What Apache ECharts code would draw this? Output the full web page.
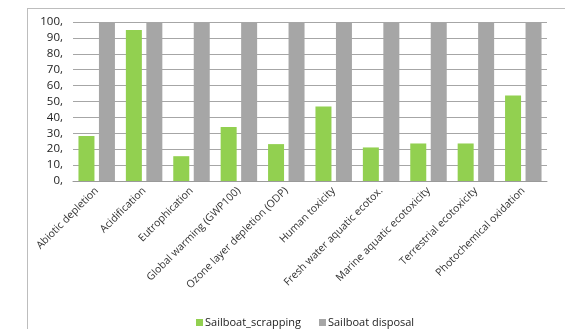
<!DOCTYPE html>
<html><head><meta charset="utf-8">
<script src="https://cdn.jsdelivr.net/npm/echarts@6/dist/echarts.min.js"></script>
<style>html,body{margin:0;padding:0;background:#fff}#c{width:565px;height:329px}
#frame{position:absolute;left:27px;top:8px;width:600px;height:330px;border-left:1px solid #bdbdbd;border-top:1px solid #bdbdbd;pointer-events:none}</style>
</head><body><div id="c"></div><div id="frame"></div>
<script>
const categories = ["Abiotic depletion","Acidification","Eutrophication","Global warming (GWP100)","Ozone layer depletion (ODP)","Human toxicity","Fresh water aquatic ecotox.","Marine aquatic ecotoxicity","Terrestrial ecotoxicity","Photochemical oxidation"];
const scrapping = [28.3, 95, 15.6, 34, 23.2, 46.8, 21.1, 23.6, 23.6, 53.8];
const disposal = [100,100,100,100,100,100,100,100,100,100];
const seriesNames = ["Sailboat_scrapping","Sailboat disposal"];
const chart = echarts.init(document.getElementById('c'));
chart.setOption({
  animation:false,
  textStyle:{fontFamily:'Open Sans'},
  grid:{left:73,right:18,top:22,bottom:148,containLabel:false},
  legend:{top:312,left:191,itemWidth:7,itemHeight:7,itemGap:18,icon:'rect',
    textStyle:{fontSize:11,color:'#222',fontFamily:'Open Sans',padding:[0,0,0,-3]},data:seriesNames},
  xAxis:{type:'category',data:categories,
    axisLine:{lineStyle:{color:'#9a9a9a',width:1}},axisTick:{show:false},
    axisLabel:{interval:0,rotate:45,fontSize:10.5,color:'#333',margin:8,fontFamily:'Open Sans'}},
  yAxis:{type:'value',min:0,max:100,interval:10,
    axisLine:{show:false},axisTick:{show:false},
    splitLine:{lineStyle:{color:'#a6a6a6',width:1}},
    axisLabel:{formatter:v=>v+',',fontSize:11.5,color:'#222',margin:10,fontFamily:'Open Sans'}},
  series:[
    {name:seriesNames[0],type:'bar',data:scrapping,barWidth:16,barGap:'28%',itemStyle:{color:'#92d050'}},
    {name:seriesNames[1],type:'bar',data:disposal,barWidth:16,itemStyle:{color:'#a6a6a6'}}
  ]
});
</script></body></html>
